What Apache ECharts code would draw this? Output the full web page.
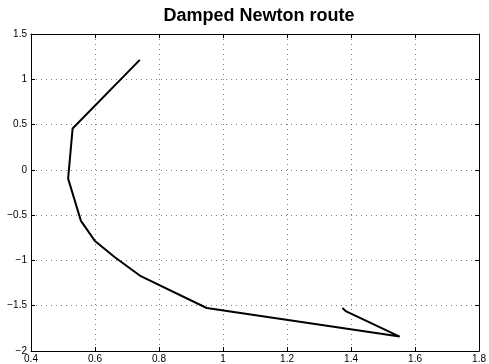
<!DOCTYPE html>
<html>
<head>
    <meta charset="utf-8">
    <title>Damped Newton route</title>
    <script src="https://cdn.jsdelivr.net/npm/echarts@6.0.0/dist/echarts.min.js"></script>
    <style>
        body, html { margin: 0; padding: 0; height: 100%; overflow: hidden; background: #fff; }
        #main { width: 489px; height: 364px; }
    </style>
</head>
<body>
    <div id="main"></div>
    <script>
        // route of the iterates (x, y)
        const routeX = [0.740, 0.530, 0.516, 0.556, 0.599, 0.662, 0.743, 0.949, 1.552, 1.385, 1.373];
        const routeY = [1.214, 0.456, -0.097, -0.563, -0.782, -0.965, -1.174, -1.525, -1.841, -1.563, -1.525];

        const xTicks = [0.4, 0.6, 0.8, 1, 1.2, 1.4, 1.6, 1.8];
        const yTicks = [-2, -1.5, -1, -0.5, 0, 0.5, 1, 1.5];

        const chart = echarts.init(document.getElementById('main'));
        const font = 'Liberation Sans, Arial, sans-serif';
        const fmt = v => String(v).replace('-', '\u2212');

        const gridLine = { show: true, lineStyle: { color: '#000', type: [1, 4], width: 1, opacity: 0.5 } };
        const frame = { show: true, onZero: false, lineStyle: { color: '#000', width: 1 } };
        const tick = { show: true, inside: true, length: 4, lineStyle: { color: '#000' } };

        chart.setOption({
            backgroundColor: '#fff',
            animation: false,
            title: {
                text: 'Damped Newton route',
                left: 254, top: 2, textAlign: 'center',
                textStyle: { fontFamily: font, fontWeight: 'bold', fontSize: 18, color: '#000' }
            },
            grid: { left: 31, right: 9, top: 34, bottom: 12 },
            xAxis: [{
                type: 'value', min: xTicks[0], max: xTicks[xTicks.length - 1], interval: 0.2,
                axisLine: frame, axisTick: tick, splitLine: gridLine,
                axisLabel: { fontFamily: font, fontSize: 10, color: '#000', margin: 3, formatter: fmt }
            }, {
                type: 'value', position: 'top', min: xTicks[0], max: xTicks[xTicks.length - 1], interval: 0.2,
                axisLine: frame, axisTick: tick, splitLine: { show: false }, axisLabel: { show: false }
            }],
            yAxis: [{
                type: 'value', min: yTicks[0], max: yTicks[yTicks.length - 1], interval: 0.5,
                axisLine: frame, axisTick: tick, splitLine: gridLine,
                axisLabel: { fontFamily: font, fontSize: 10, color: '#000', margin: 4, formatter: fmt }
            }, {
                type: 'value', position: 'right', min: yTicks[0], max: yTicks[yTicks.length - 1], interval: 0.5,
                axisLine: frame, axisTick: tick, splitLine: { show: false }, axisLabel: { show: false }
            }],
            series: [{
                type: 'line',
                data: routeX.map((x, i) => [x, routeY[i]]),
                showSymbol: false,
                lineStyle: { color: '#000', width: 2 },
                z: 5
            }]
        });
    </script>
</body>
</html>
